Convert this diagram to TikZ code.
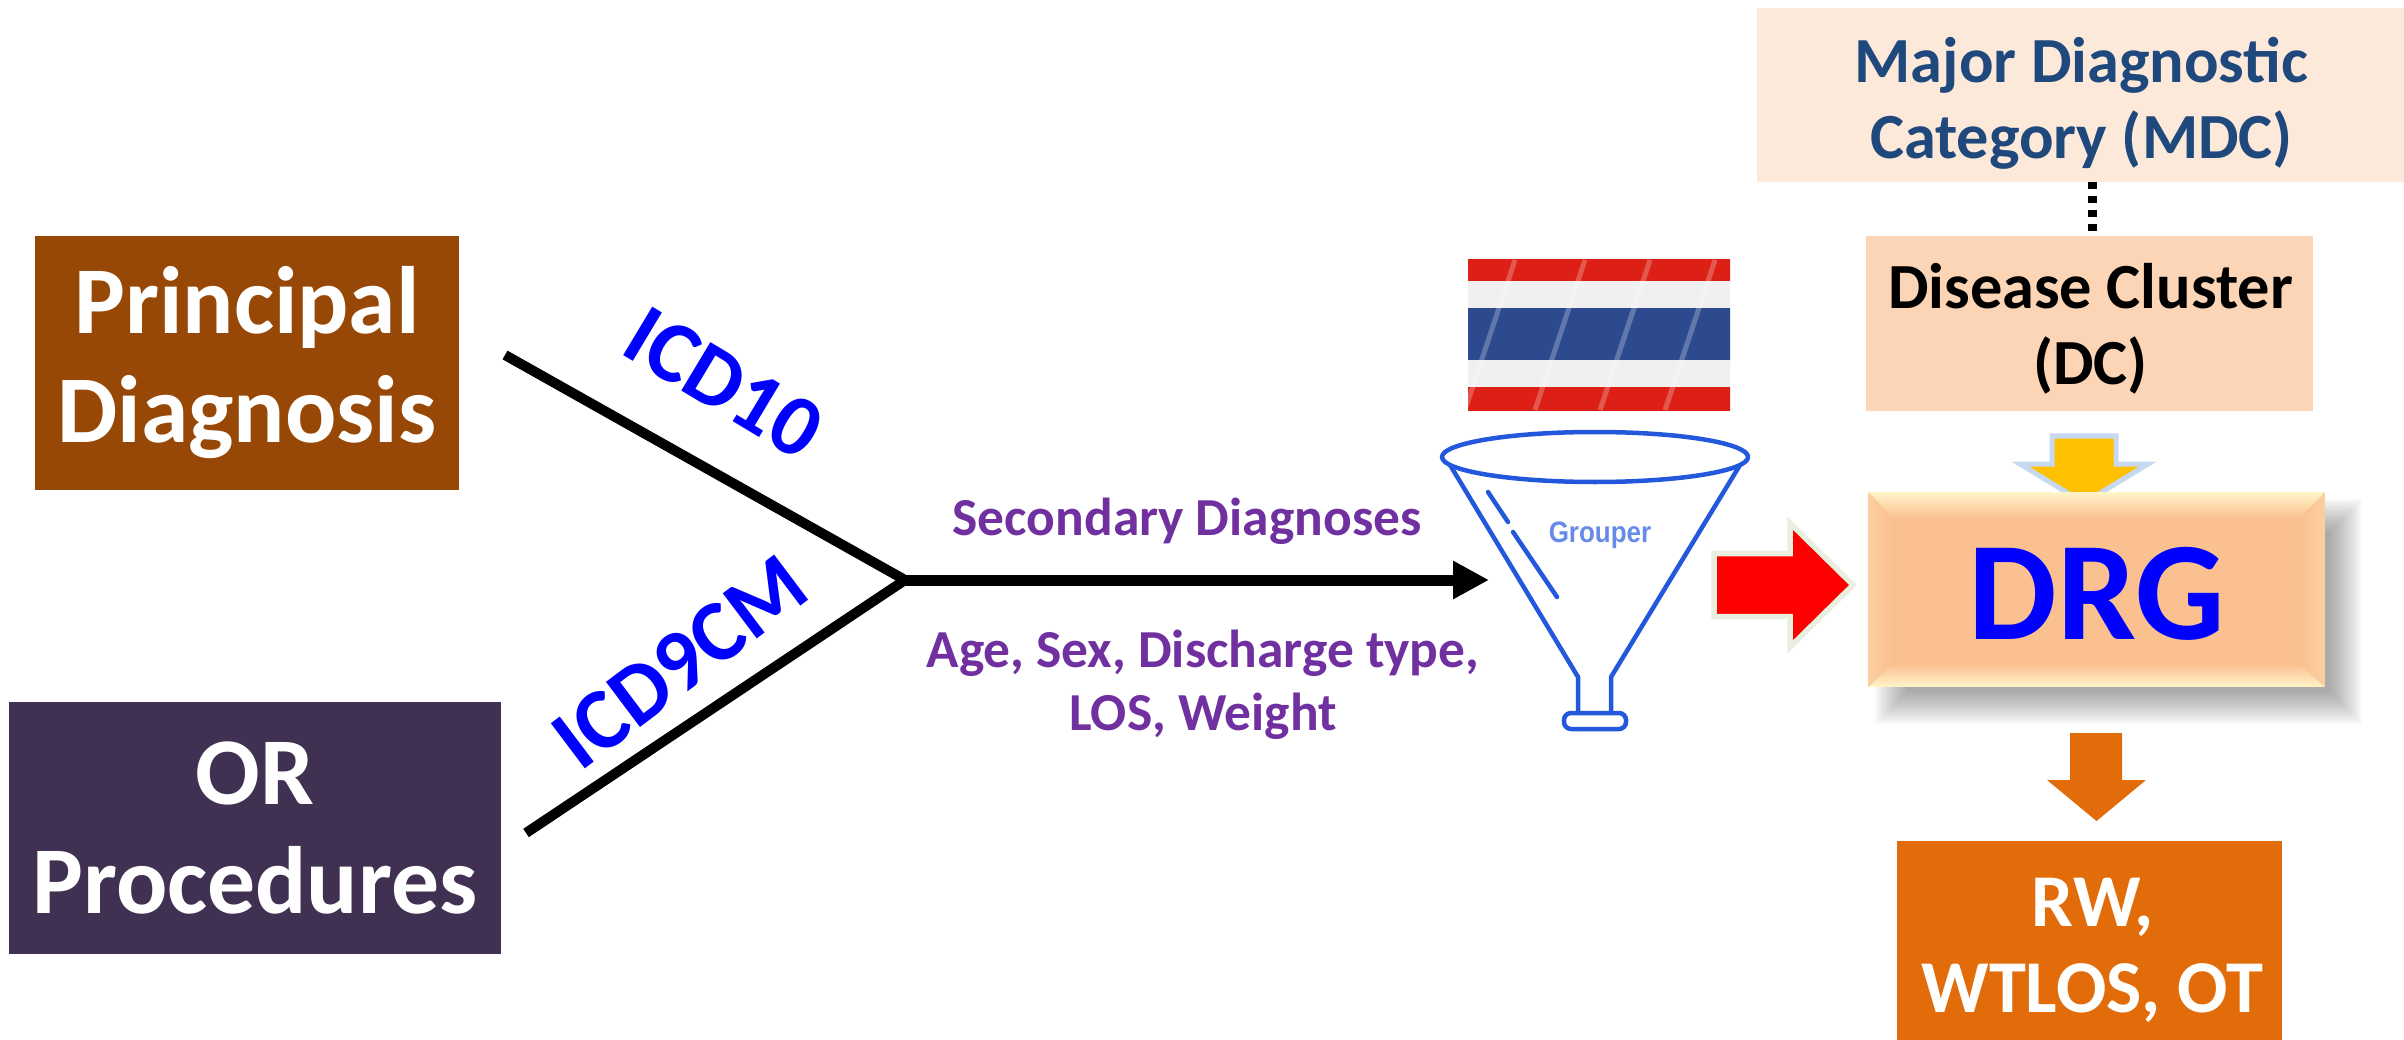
\documentclass[tikz,border=0pt]{standalone}
\usepackage{fontspec}
\setmainfont{Carlito}
\newfontfamily\grouperfont{Liberation Sans}
\usetikzlibrary{arrows.meta, calc}
\definecolor{pdbrown}{HTML}{974806}
\definecolor{orpurple}{HTML}{403152}
\definecolor{mdcfill}{HTML}{FDE9D9}
\definecolor{mdcblue}{HTML}{1F497D}
\definecolor{dcfill}{HTML}{FBD5B5}
\definecolor{drgface}{HTML}{FAC090}
\definecolor{drgglow}{HTML}{FFF4C8}
\definecolor{rworange}{HTML}{E36C0A}
\definecolor{labelpurple}{HTML}{7030A0}
\definecolor{funnelblue}{HTML}{2458DC}
\definecolor{flagred}{HTML}{DC2015}
\definecolor{flagdark}{HTML}{B80F0F}
\definecolor{flagblue}{HTML}{2E4A8E}
\definecolor{flagnavy}{HTML}{1A2C6C}
\definecolor{flagwhite}{HTML}{F0F0F0}
\definecolor{flaggray}{HTML}{C4C4C4}
\definecolor{redrim}{HTML}{E8EFDF}
\definecolor{amber}{HTML}{FFC000}
\definecolor{amberrim}{HTML}{C6D9F1}
\tikzset{
x=0.01cm, y=-0.01cm, % one unit is one pixel of the reference
bigbox/.style={text=white, inner sep=0pt, align=center, font=\bfseries\fontsize{27.2}{31}\selectfont},
tagtext/.style={inner sep=0pt, align=center, font=\bfseries\fontsize{18.3}{21.7}\selectfont},
codelabel/.style={text=blue, inner sep=0pt, font=\bfseries\fontsize{24.8}{28}\selectfont},
sidelabel/.style={text=labelpurple, inner sep=0pt, align=center, font=\bfseries\fontsize{15.2}{18}\selectfont},
branch/.style={line width=0.1cm},
funnel/.style={draw=funnelblue, line width=0.045cm, line join=round},
}

\begin{document}
\begin{tikzpicture}
    \useasboundingbox (0,0) rectangle (2404,1040);
    % left boxes
    \node[bigbox, fill=pdbrown, minimum width=4.24cm, minimum height=2.53cm] (principal) at (247,363) {Principal\\Diagnosis};
    \node[bigbox, fill=orpurple, minimum width=4.91cm, minimum height=2.52cm] (orproc) at (255,828) {OR\\Procedures};
    % branches
    \coordinate (icdtop) at (505,355);
    \coordinate (icdbottom) at (526,833);
    \coordinate (join) at (905,580);
    \coordinate (intofunnel) at (1489,580);
    \draw[branch] (icdtop) -- (join);
    \draw[branch] (icdbottom) -- (join);
    \draw[line width=0.11cm, -{Triangle[length=0.36cm, width=0.36cm]}] (join) -- (intofunnel);
    \node[codelabel, rotate=-31] (icdten) at (724,383) {ICD10};
    \node[codelabel, rotate=37] (icdnine) at (680,662) {ICD9CM};
    \node[sidelabel] (secondary) at (1187,521) {Secondary Diagnoses};
    \node[sidelabel] (agesex) at (1203,685) {Age, Sex, Discharge type,\\LOS, Weight};
    % flag, stripe by stripe, then a few folds
    \foreach \ytop/\ybot/\sa/\sb/\sc in {260/282/flagred/flagdark/flagred, 282/309/flagwhite/flaggray/flagwhite, 309/361/flagblue/flagnavy/flagblue, 361/387/flagwhite/flaggray/flagwhite, 387/410/flagred/flagdark/flagred}
        \shade[left color=\sa, middle color=\sb, right color=\sc] (1468,\ytop) rectangle (1730,\ybot);
    \begin{scope}
        \clip (1468,260) rectangle (1730,410);
        \foreach \xfold in {1490,1560,1625,1690}
            \draw[white, opacity=0.25, line width=0.05cm] (\xfold+25,260) -- (\xfold-25,410);
    \end{scope}
    % funnel
    \draw[funnel] (1595,457) ellipse (153 and 25);
    \draw[funnel] (1450,465) -- (1578,677) -- (1578,713);
    \draw[funnel] (1740,465) -- (1611,677) -- (1611,713);
    \draw[funnel, rounded corners=0.07cm] (1564,713) rectangle (1626,729);
    \draw[funnel, line cap=round] (1488,492) -- (1508,522);
    \draw[funnel, line cap=round] (1513,532) -- (1557,597);
    \node[text=funnelblue!70!white, inner sep=0pt, xscale=0.88, font=\grouperfont\bfseries\fontsize{8.4}{10}\selectfont] (grouper) at (1600,535) {Grouper};
    \draw[fill=red, draw=redrim, line width=0.055cm] (1714,553.5) -- (1790,553.5) -- (1790,523) -- (1853,585) -- (1790,647) -- (1790,616.5) -- (1714,616.5) -- cycle;
    % right column
    \node[fill=mdcfill, inner sep=0pt, minimum width=6.47cm, minimum height=1.74cm] (mdc) at (2080.5,95) {};
    \node[tagtext, text=mdcblue] (mdctext) at ($(mdc)+(1,8)$) {Major Diagnostic\\Category (MDC)};
    \node[fill=dcfill, inner sep=0pt, minimum width=4.47cm, minimum height=1.75cm] (dc) at (2089.5,323.5) {};
    \node[tagtext] (dctext) at ($(dc)+(1,5)$) {Disease Cluster\\(DC)};
    \coordinate (dotstart) at (2092,182);
    \coordinate (dotend) at (2092,236);
    \draw[line width=0.09cm, dash pattern=on 0.07cm off 0.07cm] (dotstart) -- (dotend);
    \draw[fill=amber, draw=amberrim, line width=0.05cm] (2052,436) -- (2116,436) -- (2116,464) -- (2148,464) -- (2084,503) -- (2020,464) -- (2052,464) -- cycle;
    % soft shadow under the DRG box
    \foreach \grow in {-16,-14,...,16}
        \fill[black, opacity=0.025] (1891-\grow,515-\grow) rectangle (2346+\grow,708+\grow);
    \node[fill=drgface, inner sep=0pt, minimum width=4.55cm, minimum height=1.93cm] (drg) at (2096.5,589.5) {};
    \coordinate (inA) at ($(drg.north west)+(25,26)$);
    \coordinate (inB) at ($(drg.north east)+(-25,26)$);
    \coordinate (inC) at ($(drg.south east)+(-25,-23)$);
    \coordinate (inD) at ($(drg.south west)+(25,-23)$);
    \shade[top color=drgglow, bottom color=drgface] (drg.north west) -- (drg.north east) -- (inB) -- (inA) -- cycle;
    \shade[bottom color=drgglow, top color=drgface] (drg.south west) -- (drg.south east) -- (inC) -- (inD) -- cycle;
    \shade[left color=drgface!70!drgglow, right color=drgface] (drg.north west) -- (inA) -- (inD) -- (drg.south west) -- cycle;
    \shade[right color=drgface!70!drgglow, left color=drgface] (drg.north east) -- (inB) -- (inC) -- (drg.south east) -- cycle;
    \node[text=blue, inner sep=0pt, font=\bfseries\fontsize{40}{44}\selectfont] (drgtext) at (2097,594) {DRG};
    \fill[rworange] (2070,733) -- (2122,733) -- (2122,780) -- (2146,780) -- (2096.5,821) -- (2047,780) -- (2070,780) -- cycle;
    \node[fill=rworange, inner sep=0pt, minimum width=3.85cm, minimum height=1.99cm] (rw) at (2089.5,940.5) {};
    \node[tagtext, text=white, font=\bfseries\fontsize{21.2}{24.5}\selectfont] (rwtext) at ($(rw)+(3,10)$) {RW,\\WTLOS, OT};
\end{tikzpicture}
\end{document}
